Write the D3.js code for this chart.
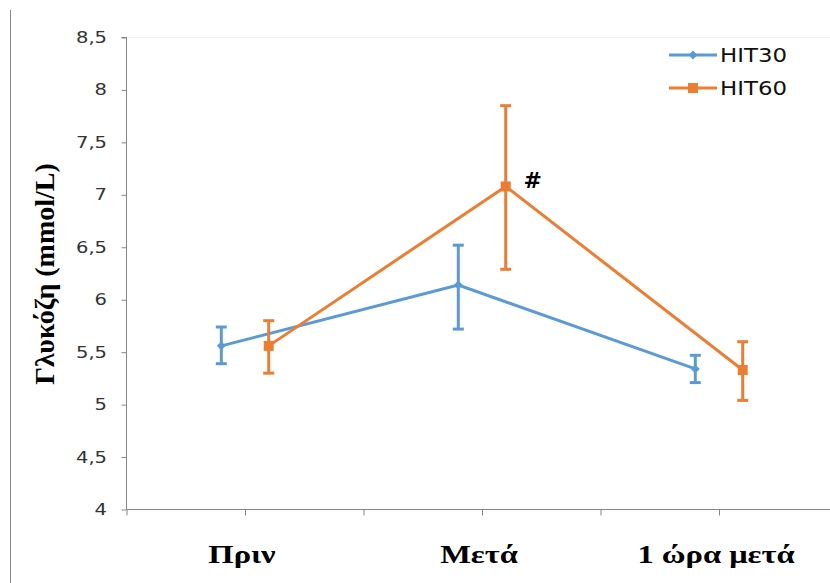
<html>
<head>
<meta charset="utf-8">
<script src="https://d3js.org/d3.v7.min.js"></script>
<style>
  body { margin: 0; background: #fff; }
</style>
</head>
<body>
<svg width="830" height="583"></svg>
<script>
var categories = ["Πριν", "Μετά", "1 ώρα μετά"];
var seriesNames = ["HIT30", "HIT60"];
var hit30 = [5.56, 6.14, 5.34];
var hit30Lo = [5.39, 5.72, 5.21];
var hit30Hi = [5.74, 6.52, 5.47];
var hit60 = [5.56, 7.08, 5.33];
var hit60Lo = [5.30, 6.29, 5.04];
var hit60Hi = [5.80, 7.85, 5.60];
var yTicks = [4, 4.5, 5, 5.5, 6, 6.5, 7, 7.5, 8, 8.5];
var xPos30 = [0.8, 2.8, 4.8];
var xPos60 = [1.2, 3.2, 5.2];
var catPos = [1, 3, 5];

var svg = d3.select("svg");
var x = d3.scaleLinear().domain([0, 6]).range([126.5, 837.5]);
var y = d3.scaleLinear().domain([4, 8.5]).range([509.5, 37.5]);
var axisColor = "#868686";

// left border line
svg.append("line").attr("x1", 10.5).attr("x2", 10.5).attr("y1", 10).attr("y2", 583)
  .attr("stroke", "#8c8c8c").attr("stroke-width", 1);

// faint top border of plot area
svg.append("line").attr("x1", x(0)).attr("x2", 830).attr("y1", y(8.5)).attr("y2", y(8.5))
  .attr("stroke", "#eef2f8").attr("stroke-width", 1);

// y axis
var yAxis = svg.append("g").attr("transform", "translate(" + x(0) + ",0)")
  .call(d3.axisLeft(y).tickValues(yTicks).tickSize(5).tickFormat(""));
yAxis.selectAll("path, line").attr("stroke", axisColor);
yAxis.select(".domain").attr("d", "M-5," + y(8.5) + "H0V" + y(4));

svg.append("g").selectAll("text").data(yTicks).enter().append("text")
  .attr("transform", function(d) { return "translate(107," + (y(d) + 5.5) + ") scale(1.3,1)"; })
  .attr("text-anchor", "end")
  .attr("font-family", "DejaVu Sans").attr("font-size", 15)
  .attr("fill", "#333")
  .text(function(d) { return String(d).replace(".", ","); });

// x axis
var xAxis = svg.append("g").attr("transform", "translate(0," + y(4) + ")")
  .call(d3.axisBottom(x).tickValues([0, 1, 2, 3, 4, 5, 6]).tickSize(6).tickFormat(""));
xAxis.selectAll("path, line").attr("stroke", axisColor);
xAxis.select(".domain").attr("d", "M" + x(0) + ",0H" + x(6));

// category labels
svg.append("g").selectAll("text").data(categories).enter().append("text")
  .attr("transform", function(d, i) { return "translate(" + (x(catPos[i]) - 3) + ",563) scale(1.3,1)"; })
  .attr("text-anchor", "middle")
  .attr("font-family", "Liberation Serif")
  .attr("font-weight", "bold")
  .attr("font-size", 25)
  .attr("fill", "#000")
  .text(function(d) { return d; });

// y title
svg.append("text")
  .attr("transform", "translate(54,274) rotate(-90)")
  .attr("text-anchor", "middle")
  .attr("font-family", "Liberation Serif")
  .attr("font-weight", "bold")
  .attr("font-size", 28)
  .attr("fill", "#000")
  .text("Γλυκόζη (mmol/L)");

var series = [
  { name: seriesNames[0], vals: hit30, lo: hit30Lo, hi: hit30Hi, xs: xPos30, color: "#5b9bd5", marker: "diamond" },
  { name: seriesNames[1], vals: hit60, lo: hit60Lo, hi: hit60Hi, xs: xPos60, color: "#ed7d31", marker: "square" }
];

var line = d3.line()
  .x(function(d) { return x(d[0]); })
  .y(function(d) { return y(d[1]); });

series.forEach(function(s) {
  var g = svg.append("g");
  var pts = s.vals.map(function(v, i) { return [s.xs[i], v]; });
  g.append("path").attr("d", line(pts)).attr("fill", "none")
    .attr("stroke", s.color).attr("stroke-width", 3).attr("stroke-linejoin", "round");
  // error bars
  s.vals.forEach(function(v, i) {
    var cx = x(s.xs[i]);
    g.append("line").attr("x1", cx).attr("x2", cx).attr("y1", y(s.lo[i])).attr("y2", y(s.hi[i]))
      .attr("stroke", s.color).attr("stroke-width", 3);
    [s.lo[i], s.hi[i]].forEach(function(e) {
      g.append("line").attr("x1", cx - 5.5).attr("x2", cx + 5.5).attr("y1", y(e)).attr("y2", y(e))
        .attr("stroke", s.color).attr("stroke-width", 3);
    });
  });
  var sym = s.marker === "diamond" ? d3.symbol().type(d3.symbolDiamond2).size(50)
                                   : d3.symbol().type(d3.symbolSquare).size(100);
  g.selectAll(".m").data(pts).enter().append("path")
    .attr("transform", function(d) { return "translate(" + x(d[0]) + "," + y(d[1]) + ")"; })
    .attr("d", sym).attr("fill", s.color);
});

// significance mark
svg.append("text").attr("x", x(xPos60[1]) + 27).attr("y", y(hit60[1]) + 2)
  .attr("text-anchor", "middle")
  .attr("font-family", "DejaVu Sans").attr("font-weight", "bold").attr("font-size", 22)
  .attr("fill", "#000").text("#");

// legend
var leg = svg.append("g");
series.forEach(function(s, i) {
  var ly = 55 + i * 33;
  leg.append("line").attr("x1", 669).attr("x2", 717).attr("y1", ly).attr("y2", ly)
    .attr("stroke", s.color).attr("stroke-width", 3);
  var sym = s.marker === "diamond" ? d3.symbol().type(d3.symbolDiamond2).size(50)
                                   : d3.symbol().type(d3.symbolSquare).size(100);
  leg.append("path").attr("transform", "translate(693," + ly + ")").attr("d", sym).attr("fill", s.color);
  leg.append("text").attr("x", 720).attr("y", ly + 7)
    .attr("font-family", "DejaVu Sans").attr("font-size", 20)
    .attr("textLength", 67).attr("lengthAdjust", "spacingAndGlyphs")
    .attr("fill", "#111").text(s.name);
});
</script>
</body>
</html>
